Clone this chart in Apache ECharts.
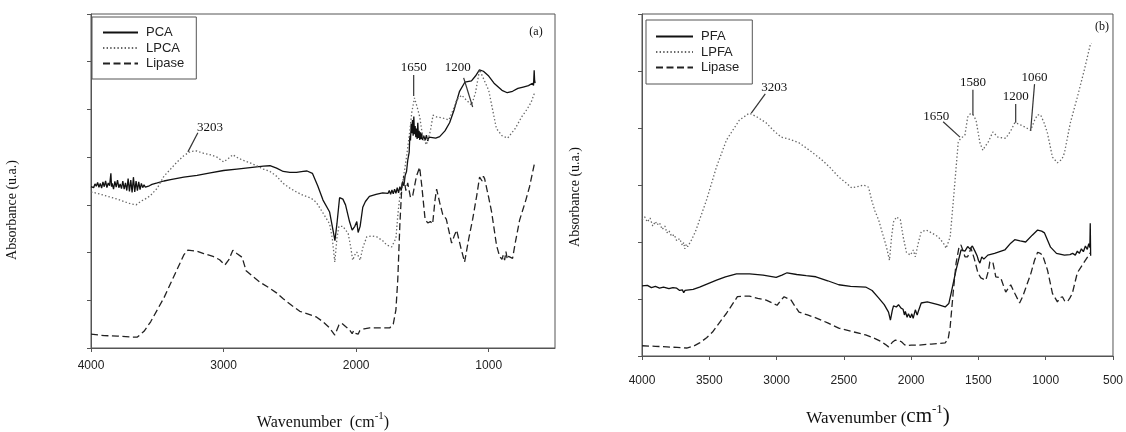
<!DOCTYPE html>
<html>
<head>
<meta charset="utf-8">
<script src="https://cdn.jsdelivr.net/npm/echarts@6/dist/echarts.min.js"></script>
<style>
  html, body { margin: 0; padding: 0; background: #fff; }
  #chart { width: 1126px; height: 432px; }
</style>
</head>
<body>
<div id="chart"></div>
<script>
// FTIR spectra, [wavenumber (cm-1), absorbance (u.a.)]

// ---- panel (a) ----
const pcaSpectrum = [
  [4000,3.38],[3990,3.42],[3980,3.36],[3970,3.44],[3960,3.39],[3950,3.47],[3940,3.37],[3930,3.45],
  [3920,3.35],[3910,3.48],[3900,3.38],[3890,3.50],[3880,3.36],[3870,3.46],[3860,3.40],[3850,3.66],
  [3845,3.38],[3840,3.45],[3830,3.33],[3820,3.49],[3810,3.37],[3800,3.52],[3790,3.36],[3780,3.44],
  [3770,3.34],[3760,3.50],[3750,3.33],[3740,3.46],[3730,3.30],[3720,3.55],[3710,3.28],[3700,3.52],
  [3690,3.26],[3680,3.58],[3670,3.27],[3660,3.50],[3650,3.30],[3640,3.48],[3630,3.32],[3620,3.45],
  [3610,3.36],[3600,3.42],[3590,3.37],[3580,3.41],[3560,3.40],[3540,3.43],[3500,3.46],[3450,3.50],
  [3400,3.53],[3300,3.58],[3200,3.62],[3100,3.67],[3000,3.72],[2900,3.75],[2800,3.78],[2700,3.81],
  [2650,3.82],[2600,3.77],[2550,3.70],[2500,3.68],[2450,3.68],[2400,3.70],[2370,3.71],[2330,3.66],
  [2290,3.40],[2250,3.10],[2200,2.85],[2170,2.40],[2160,2.25],[2145,2.60],[2125,3.15],[2100,3.12],
  [2080,3.00],[2050,2.65],[2030,2.47],[2010,2.55],[1995,2.65],[1985,2.42],[1970,2.55],[1950,2.95],
  [1930,3.07],[1900,3.18],[1850,3.22],[1800,3.25],[1760,3.24],[1750,3.30],[1740,3.22],[1730,3.31],
  [1720,3.23],[1710,3.33],[1700,3.24],[1690,3.36],[1680,3.25],[1670,3.38],[1660,3.30],[1650,3.48],
  [1640,3.40],[1630,3.62],[1620,3.70],[1610,3.95],[1600,4.10],[1595,4.45],[1590,4.35],[1585,4.70],
  [1580,4.50],[1575,4.78],[1570,4.45],[1565,4.85],[1560,4.48],[1555,4.65],[1550,4.42],[1545,4.60],
  [1540,4.38],[1535,4.72],[1530,4.40],[1525,4.55],[1520,4.36],[1515,4.52],[1510,4.38],[1505,4.50],
  [1500,4.36],[1490,4.45],[1480,4.35],[1470,4.46],[1460,4.34],[1450,4.42],[1440,4.38],[1400,4.40],
  [1370,4.43],[1330,4.55],[1295,4.72],[1260,5.00],[1220,5.38],[1180,5.57],[1130,5.60],[1100,5.70],
  [1070,5.83],[1040,5.80],[1000,5.70],[960,5.55],[900,5.40],[860,5.35],[820,5.38],[780,5.44],
  [740,5.47],[700,5.50],[670,5.55],[662,5.50],[657,5.82],[654,5.62],[650,5.55]
];

const lpcaSpectrum = [
  [4000,3.27],[3950,3.24],[3900,3.20],[3850,3.16],[3800,3.12],[3750,3.07],[3700,3.02],[3660,3.00],
  [3620,3.08],[3580,3.14],[3550,3.20],[3500,3.35],[3450,3.60],[3400,3.75],[3350,3.90],[3300,4.03],
  [3250,4.12],[3203,4.13],[3150,4.08],[3100,4.05],[3050,4.00],[3000,3.90],[2960,3.98],[2930,4.05],
  [2890,3.98],[2850,3.93],[2800,3.88],[2750,3.82],[2700,3.75],[2650,3.70],[2600,3.60],[2550,3.45],
  [2500,3.35],[2450,3.27],[2400,3.20],[2350,3.15],[2330,3.12],[2300,3.05],[2250,2.83],[2200,2.60],
  [2180,2.30],[2161,1.80],[2145,2.30],[2130,2.55],[2100,2.55],[2086,2.52],[2060,2.40],[2040,2.10],
  [2026,1.84],[2010,1.95],[1995,2.01],[1980,1.90],[1970,1.84],[1950,2.10],[1920,2.33],[1880,2.35],
  [1845,2.33],[1800,2.25],[1770,2.16],[1732,2.12],[1700,2.30],[1685,2.80],[1671,3.17],[1650,3.45],
  [1620,4.00],[1595,4.55],[1581,4.93],[1560,5.24],[1540,5.05],[1520,4.84],[1498,4.42],[1470,4.26],
  [1440,4.55],[1420,4.88],[1390,4.84],[1347,4.82],[1300,4.78],[1260,5.05],[1242,5.20],[1204,5.30],
  [1170,5.20],[1129,5.09],[1100,5.35],[1069,5.83],[1040,5.65],[1000,5.40],[971,5.00],[942,4.60],
  [900,4.45],[857,4.40],[800,4.60],[750,4.85],[714,4.99],[680,5.15],[654,5.35]
];

const lipaseSpectrumA = [
  [4000,0.29],[3900,0.26],[3800,0.25],[3700,0.23],[3650,0.23],[3600,0.35],[3550,0.55],[3500,0.80],
  [3450,1.05],[3400,1.35],[3350,1.65],[3300,1.95],[3270,2.05],[3200,2.03],[3150,1.98],[3080,1.92],
  [3030,1.85],[2990,1.74],[2960,1.85],[2930,2.05],[2900,1.98],[2860,1.90],[2830,1.62],[2780,1.50],
  [2726,1.38],[2650,1.25],[2598,1.15],[2550,1.03],[2480,0.88],[2425,0.77],[2350,0.70],[2300,0.65],
  [2250,0.55],[2200,0.42],[2161,0.27],[2130,0.48],[2109,0.52],[2080,0.45],[2050,0.38],[2030,0.30],
  [2020,0.36],[2010,0.31],[1995,0.35],[1985,0.29],[1973,0.36],[1940,0.40],[1898,0.42],[1800,0.42],
  [1747,0.42],[1720,0.50],[1700,0.80],[1686,1.43],[1670,2.60],[1655,3.40],[1641,3.60],[1625,3.30],
  [1611,3.46],[1590,3.15],[1573,3.20],[1545,3.60],[1521,3.79],[1505,3.40],[1480,2.70],[1460,2.62],
  [1440,2.65],[1423,2.60],[1405,3.10],[1393,3.33],[1370,3.05],[1347,2.80],[1320,2.70],[1280,2.20],
  [1260,2.35],[1242,2.47],[1210,2.10],[1182,1.80],[1150,2.30],[1121,2.70],[1090,3.20],[1069,3.58],
  [1050,3.50],[1040,3.60],[1031,3.55],[1000,3.15],[978,2.85],[941,2.15],[918,1.92],[900,1.86],
  [890,1.95],[880,1.84],[870,2.02],[860,1.86],[850,1.92],[820,1.88],[800,2.20],[767,2.68],
  [720,3.10],[692,3.38],[654,3.88]
];

// ---- panel (b) ----
const pfaSpectrum = [
  [4000,1.23],[3960,1.24],[3930,1.20],[3900,1.22],[3870,1.19],[3840,1.21],[3800,1.18],[3770,1.20],
  [3742,1.19],[3720,1.15],[3700,1.16],[3690,1.11],[3680,1.15],[3668,1.12],[3650,1.16],[3620,1.17],
  [3572,1.21],[3500,1.28],[3446,1.33],[3380,1.39],[3298,1.44],[3200,1.44],[3100,1.42],[3003,1.38],
  [2960,1.42],[2922,1.46],[2850,1.43],[2780,1.41],[2708,1.39],[2620,1.32],[2538,1.25],[2450,1.22],
  [2338,1.21],[2290,1.15],[2242,1.02],[2200,0.90],[2168,0.77],[2154,0.63],[2140,0.80],[2131,0.88],
  [2110,0.86],[2094,0.90],[2075,0.84],[2060,0.82],[2050,0.72],[2043,0.78],[2030,0.68],[2020,0.74],
  [2006,0.67],[1995,0.74],[1985,0.66],[1969,0.81],[1955,0.72],[1947,0.78],[1925,0.93],[1880,0.95],
  [1800,0.90],[1747,0.86],[1720,0.92],[1703,1.10],[1666,1.51],[1629,1.86],[1600,1.84],[1580,1.92],
  [1563,1.88],[1545,1.93],[1526,1.84],[1510,1.76],[1500,1.68],[1489,1.63],[1475,1.74],[1460,1.70],
  [1430,1.77],[1380,1.80],[1304,1.86],[1260,1.98],[1230,2.04],[1190,2.02],[1149,2.00],[1100,2.12],
  [1060,2.21],[1030,2.19],[1009,2.16],[964,1.91],[920,1.80],[861,1.77],[820,1.78],[800,1.80],
  [780,1.77],[765,1.84],[750,1.80],[735,1.88],[720,1.83],[705,1.93],[691,1.87],[680,1.97],
  [672,1.90],[669,2.33],[666,1.76]
];

const lpfaSpectrum = [
  [4000,2.39],[3980,2.44],[3960,2.35],[3940,2.42],[3920,2.28],[3900,2.36],[3889,2.30],[3870,2.34],
  [3850,2.22],[3830,2.28],[3815,2.16],[3800,2.20],[3780,2.10],[3760,2.13],[3742,2.02],[3720,2.06],
  [3700,1.94],[3690,1.99],[3682,1.88],[3670,1.96],[3660,1.92],[3631,2.04],[3600,2.20],[3572,2.39],
  [3520,2.74],[3446,3.32],[3372,3.79],[3276,4.14],[3203,4.26],[3150,4.20],[3077,4.09],[3020,3.95],
  [2966,3.84],[2900,3.80],[2833,3.74],[2750,3.60],[2663,3.44],[2600,3.30],[2538,3.14],[2480,3.03],
  [2442,2.95],[2400,2.97],[2353,3.00],[2316,2.96],[2294,2.74],[2270,2.55],[2242,2.39],[2183,1.91],
  [2161,1.68],[2145,2.10],[2131,2.35],[2109,2.44],[2080,2.39],[2060,2.10],[2035,1.82],[2006,1.77],
  [1984,1.86],[1969,1.74],[1950,1.95],[1925,2.18],[1888,2.21],[1840,2.15],[1799,2.09],[1760,1.98],
  [1740,1.89],[1710,2.09],[1688,2.68],[1666,3.30],[1650,3.75],[1637,3.80],[1600,3.88],[1580,4.19],
  [1560,4.25],[1540,4.23],[1518,4.14],[1489,3.74],[1467,3.61],[1450,3.68],[1430,3.74],[1393,3.93],
  [1356,3.84],[1297,3.82],[1260,3.95],[1230,4.09],[1200,4.07],[1157,4.02],[1112,3.96],[1080,4.15],
  [1060,4.23],[1038,4.23],[1010,4.08],[987,3.91],[950,3.49],[913,3.39],[880,3.45],[861,3.56],
  [817,4.09],[765,4.54],[713,5.02],[669,5.46],[660,5.49]
];

const lipaseSpectrumB = [
  [4000,0.18],[3900,0.17],[3815,0.16],[3740,0.15],[3668,0.14],[3620,0.17],[3572,0.23],[3520,0.32],
  [3476,0.42],[3420,0.60],[3372,0.75],[3330,0.90],[3291,1.04],[3250,1.05],[3202,1.05],[3140,1.01],
  [3077,0.98],[3030,0.93],[2996,0.89],[2970,0.97],[2944,1.04],[2920,1.01],[2892,0.98],[2860,0.86],
  [2833,0.77],[2770,0.72],[2708,0.67],[2620,0.58],[2538,0.49],[2440,0.43],[2338,0.37],[2280,0.32],
  [2220,0.25],[2190,0.20],[2168,0.16],[2140,0.24],[2117,0.28],[2095,0.27],[2072,0.25],[2050,0.20],
  [2035,0.18],[2000,0.19],[1947,0.19],[1850,0.21],[1747,0.23],[1725,0.30],[1710,0.51],[1688,1.10],
  [1666,1.63],[1645,1.90],[1630,1.95],[1615,1.85],[1600,1.74],[1580,1.74],[1555,1.89],[1530,1.70],
  [1504,1.46],[1482,1.37],[1445,1.33],[1425,1.50],[1415,1.65],[1393,1.65],[1371,1.39],[1334,1.37],
  [1297,1.12],[1260,1.25],[1230,1.10],[1194,0.93],[1170,1.05],[1149,1.19],[1110,1.45],[1083,1.68],
  [1060,1.82],[1040,1.80],[1023,1.77],[987,1.51],[950,1.10],[913,0.95],[895,1.02],[876,1.04],
  [860,0.97],[839,0.95],[820,1.02],[802,1.10],[765,1.46],[713,1.65],[669,1.81]
];

// x tick labels
const xTicksA = [1000, 2000, 3000, 4000];
const xTicksB = [500, 1000, 1500, 2000, 2500, 3000, 3500, 4000];

// peak callouts: label text, label foot [cm-1, u.a.], leader line ends
const peaksA = [
  { text: '3203', at: [3103, 4.49], from: [3194, 4.51], to: [3269, 4.11] },
  { text: '1650', at: [1566, 5.74], from: [1566, 5.72], to: [1566, 5.28] },
  { text: '1200', at: [1234, 5.74], from: [1189, 5.66], to: [1121, 5.05] }
];
const peaksB = [
  { text: '3203', at: [3018, 4.60], from: [3084, 4.60], to: [3188, 4.26] },
  { text: '1580', at: [1541, 4.68], from: [1541, 4.67], to: [1541, 4.23] },
  { text: '1650', at: [1814, 4.09], from: [1762, 4.11], to: [1637, 3.84] },
  { text: '1200', at: [1223, 4.44], from: [1223, 4.42], to: [1223, 4.09] },
  { text: '1060', at: [1083, 4.77], from: [1083, 4.77], to: [1112, 3.95] }
];

const SANS = '"Liberation Sans", Arial, sans-serif';
const SERIF = '"Liberation Serif", "Times New Roman", serif';
const AXIS_COLOR = '#555';

const styleSolid = { type: 'solid', color: '#111', width: 1.3 };
const styleDotted = { type: [1.4, 2.2], color: '#666', width: 1.3 };
const styleDashed = { type: [7, 3.5], color: '#222', width: 1.3 };

function makeX(gridIndex, ticks, margin) {
  return {
    type: 'value', gridIndex, inverse: true, min: 500, max: 4000,
    splitLine: { show: false },
    axisLine: { show: true, lineStyle: { color: AXIS_COLOR, width: 1 } },
    axisTick: { show: true, inside: false, length: 4, customValues: ticks, lineStyle: { color: AXIS_COLOR } },
    axisLabel: {
      show: true, customValues: ticks, margin, color: '#222', fontFamily: SANS, fontSize: 12,
      formatter: v => String(v)
    }
  };
}
function makeY(gridIndex, max) {
  return {
    type: 'value', gridIndex, min: 0, max, interval: 1,
    splitLine: { show: false },
    axisLine: { show: true, lineStyle: { color: AXIS_COLOR, width: 1 } },
    axisTick: { show: true, inside: false, length: 4, lineStyle: { color: AXIS_COLOR } },
    axisLabel: { show: false }
  };
}
function line(name, data, idx, lineStyle) {
  return {
    name, type: 'line', data, xAxisIndex: idx, yAxisIndex: idx,
    symbol: 'none', smooth: false, silent: true, lineStyle
  };
}
function legendFor(names, left, top, padding, itemWidth) {
  return {
    data: names, orient: 'vertical', left, top, padding,
    itemWidth, itemHeight: 14, itemGap: 2.5,
    borderColor: AXIS_COLOR, borderWidth: 1, borderRadius: 0,
    backgroundColor: '#fff',
    itemStyle: { opacity: 0 },
    textStyle: { fontFamily: SANS, fontSize: 13, color: '#222', padding: [0, 0, 0, 3] },
    selectedMode: false
  };
}

const chart = echarts.init(document.getElementById('chart'), null, { renderer: 'canvas' });

chart.setOption({
  animation: false,
  backgroundColor: '#fff',
  grid: [
    { left: 91, top: 14, width: 464, height: 334, show: true, borderColor: AXIS_COLOR, borderWidth: 1, backgroundColor: 'transparent' },
    { left: 642, top: 14, width: 474, height: 342, show: true, borderColor: AXIS_COLOR, borderWidth: 1, backgroundColor: 'transparent' }
  ],
  xAxis: [makeX(0, xTicksA, 12), makeX(1, xTicksB, 19)],
  yAxis: [makeY(0, 7), makeY(1, 6)],
  legend: [
    legendFor(['PCA', 'LPCA', 'Lipase'], 92, 17, [9, 12, 9, 10], 35),
    legendFor(['PFA', 'LPFA', 'Lipase'], 646, 20, [10, 13, 10, 9], 37)
  ],
  series: [
    line('PCA', pcaSpectrum, 0, styleSolid),
    line('LPCA', lpcaSpectrum, 0, styleDotted),
    line('Lipase', lipaseSpectrumA, 0, styleDashed),
    line('PFA', pfaSpectrum, 1, styleSolid),
    line('LPFA', lpfaSpectrum, 1, styleDotted),
    line('Lipase', lipaseSpectrumB, 1, styleDashed)
  ]
});

// peak callouts and titles, placed through the axes' own scales
const graphics = [];
function addPeaks(list, gridIndex) {
  list.forEach(p => {
    const a = chart.convertToPixel({ gridIndex }, p.at);
    const f = chart.convertToPixel({ gridIndex }, p.from);
    const t = chart.convertToPixel({ gridIndex }, p.to);
    graphics.push({
      type: 'line', silent: true, z: 50,
      shape: { x1: f[0], y1: f[1], x2: t[0], y2: t[1] },
      style: { stroke: '#333', lineWidth: 1.2 }
    });
    graphics.push({
      type: 'text', silent: true, z: 50, x: a[0], y: a[1],
      style: { text: p.text, font: '13px ' + SERIF, fill: '#111', align: 'center', verticalAlign: 'bottom' }
    });
  });
}
addPeaks(peaksA, 0);
addPeaks(peaksB, 1);

graphics.push(
  { type: 'text', silent: true, x: 536, y: 32,
    style: { text: '(a)', font: '12px ' + SERIF, fill: '#111', align: 'center', verticalAlign: 'middle' } },
  { type: 'text', silent: true, x: 1102, y: 27,
    style: { text: '(b)', font: '12px ' + SERIF, fill: '#111', align: 'center', verticalAlign: 'middle' } },
  { type: 'text', silent: true, x: 12, y: 210, rotation: Math.PI / 2,
    style: { text: 'Absorbance (u.a.)', font: '14px ' + SERIF, fill: '#111', align: 'center', verticalAlign: 'middle' } },
  { type: 'text', silent: true, x: 575, y: 197, rotation: Math.PI / 2,
    style: { text: 'Absorbance (u.a.)', font: '14px ' + SERIF, fill: '#111', align: 'center', verticalAlign: 'middle' } },
  { type: 'text', silent: true, x: 323, y: 421,
    style: {
      text: '{t|Wavenumber  (cm}{s|-1}{t|)}', align: 'center', verticalAlign: 'middle', fill: '#111',
      rich: {
        t: { fontFamily: SERIF, fontSize: 16, lineHeight: 20, verticalAlign: 'bottom' },
        s: { fontFamily: SERIF, fontSize: 11, lineHeight: 12, verticalAlign: 'top' }
      }
    } },
  { type: 'text', silent: true, x: 878, y: 415,
    style: {
      text: '{t|Wavenumber (}{c|cm}{s|-1}{c|)}', align: 'center', verticalAlign: 'middle', fill: '#111',
      rich: {
        t: { fontFamily: SERIF, fontSize: 17, lineHeight: 24, verticalAlign: 'bottom' },
        c: { fontFamily: SERIF, fontSize: 21, lineHeight: 24, verticalAlign: 'bottom' },
        s: { fontFamily: SERIF, fontSize: 13, lineHeight: 13, verticalAlign: 'top' }
      }
    } }
);

chart.setOption({ graphic: graphics });
</script>
</body>
</html>
